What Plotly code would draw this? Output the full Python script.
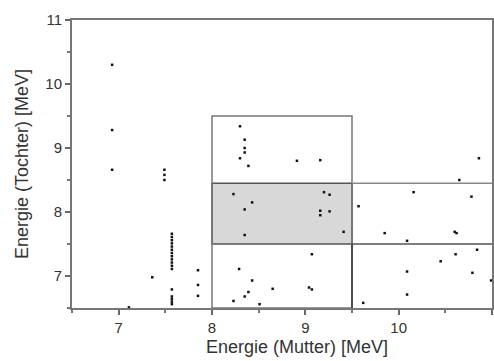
import plotly.graph_objects as go

# Data points: Mutter energy (x) and Tochter energy (y), MeV
mother = [6.93, 6.93, 6.93, 7.49, 7.49, 7.49,
          7.57, 7.57, 7.57, 7.57, 7.57, 7.57, 7.57, 7.57, 7.57, 7.57, 7.57, 7.57,
          7.36, 7.57, 7.57, 7.57, 7.57, 7.57, 7.85, 7.85, 7.85, 7.11,
          8.30, 8.35, 8.35, 8.35, 8.30, 8.39, 8.91, 9.16,
          8.23, 8.43, 8.35, 8.35, 9.20, 9.26, 9.16, 9.16, 9.26, 9.41,
          9.07, 8.29, 8.43, 8.39, 8.35, 8.65, 9.04, 9.07, 8.23, 8.51,
          10.86, 10.65, 10.16, 10.78, 9.57, 9.85, 10.09, 10.60, 10.62,
          10.61, 10.84, 10.45, 10.09, 10.79, 10.99, 10.09, 9.62]
daughter = [10.30, 9.28, 8.66, 8.66, 8.58, 8.50,
            7.66, 7.61, 7.56, 7.51, 7.46, 7.41, 7.36, 7.31, 7.26, 7.21, 7.16, 7.11,
            6.98, 6.79, 6.68, 6.64, 6.60, 6.56, 7.09, 6.86, 6.69, 6.51,
            9.34, 9.13, 9.00, 8.93, 8.84, 8.72, 8.80, 8.81,
            8.28, 8.15, 8.04, 7.64, 8.31, 8.27, 8.02, 7.95, 8.01, 7.69,
            7.34, 7.11, 6.93, 6.75, 6.68, 6.80, 6.82, 6.79, 6.61, 6.56,
            8.84, 8.50, 8.31, 8.24, 8.09, 7.67, 7.55, 7.69, 7.67,
            7.34, 7.41, 7.23, 7.07, 7.05, 6.93, 6.71, 6.58]

# Analysis windows (MeV)
window_mother = [8.0, 9.5]
window_daughter = [7.5, 9.5]
gate_daughter = [7.5, 8.45]
side_mother = [9.5, 11.0]

x_ticks = [7, 8, 9, 10, 11]
y_ticks = [7, 8, 9, 10, 11]
x_range = [6.5, 11.0]
y_range = [6.5, 11.0]

fig = go.Figure()

shapes = [
    # shaded gate
    dict(type="rect", xref="x", yref="y", layer="below",
         x0=window_mother[0], x1=window_mother[1], y0=gate_daughter[0], y1=gate_daughter[1],
         fillcolor="#d8d8d8", line=dict(color="#555555", width=1.5)),
    # outer window
    dict(type="rect", xref="x", yref="y", layer="below",
         x0=window_mother[0], x1=window_mother[1], y0=y_range[0], y1=window_daughter[1],
         fillcolor="rgba(0,0,0,0)", line=dict(color="#777777", width=1.5)),
    # side band lines
    dict(type="line", xref="x", yref="y", layer="below",
         x0=side_mother[0], x1=side_mother[1], y0=gate_daughter[1], y1=gate_daughter[1],
         line=dict(color="#888888", width=1.5)),
    dict(type="line", xref="x", yref="y", layer="below",
         x0=side_mother[0], x1=side_mother[1], y0=gate_daughter[0], y1=gate_daughter[0],
         line=dict(color="#555555", width=1.5)),
    dict(type="line", xref="x", yref="y", layer="below",
         x0=window_mother[1], x1=window_mother[1], y0=y_range[0], y1=gate_daughter[0],
         line=dict(color="#333333", width=1.5)),
]

fig.add_trace(go.Scatter(
    x=mother, y=daughter, mode="markers",
    marker=dict(symbol="square", size=2.5, color="#111111", line=dict(width=0)),
    showlegend=False, hoverinfo="skip", cliponaxis=True,
))

axis_common = dict(
    showline=True, linecolor="#777777", linewidth=2, mirror=True,
    ticks="outside", ticklen=5, tickwidth=1.5, tickcolor="#666666",
    showgrid=False, zeroline=False, automargin=False,
    tickfont=dict(family="Liberation Sans, Arial", size=15, color="#333333"),
    minor=dict(ticks="outside", ticklen=3, tickwidth=1.5, tickcolor="#777777", dtick=0.5),
)

fig.update_layout(
    width=494, height=361,
    margin=dict(l=72, r=2, t=20, b=53, autoexpand=False),
    paper_bgcolor="white", plot_bgcolor="white",
    shapes=shapes,
    xaxis=dict(range=x_range, tickvals=x_ticks, ticktext=[str(v) for v in x_ticks], **axis_common),
    yaxis=dict(range=y_range, tickvals=y_ticks, ticktext=[str(v) for v in y_ticks], **axis_common),
    annotations=[
        dict(text="Energie (Mutter) [MeV]", xref="paper", yref="paper",
             x=0.536, y=-0.135, xanchor="center", yanchor="middle", showarrow=False,
             font=dict(family="Liberation Sans, Arial", size=18, color="#333333")),
        dict(text="Energie (Tochter) [MeV]", xref="paper", yref="paper",
             x=-0.119, y=0.5, xanchor="center", yanchor="middle", textangle=-90, showarrow=False,
             font=dict(family="Liberation Sans, Arial", size=18, color="#333333")),
        dict(text="Analyse der Zeit [s]", xref="paper", yref="paper",
             x=-0.069, y=1.062, xanchor="left", yanchor="bottom", showarrow=False,
             font=dict(family="Liberation Sans, Arial", size=16, color="#222222")),
    ],
)

fig.write_html("out.html", config={"displayModeBar": False},
               post_script="document.body.style.margin='0';document.body.style.overflow='hidden';")
